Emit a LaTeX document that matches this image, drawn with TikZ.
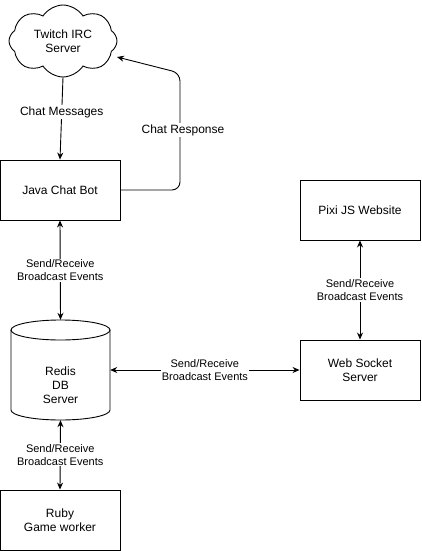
\documentclass[tikz,border=0pt]{standalone}
\usepackage{fontspec}
\setmainfont{Liberation Sans}
\usetikzlibrary{shapes.symbols,arrows.meta}
\begin{document}
\begin{tikzpicture}[x=1pt,y=1pt,
  box/.style={draw,line width=0.9pt,minimum width=120pt,minimum height=60pt,inner sep=0pt,align=center,font=\fontsize{12}{14}\selectfont},
  lbl/.style={fill=white,inner sep=1pt,align=center,font=\fontsize{11}{13}\selectfont},
  clbl/.style={fill=white,inner sep=1pt,align=center,font=\fontsize{12}{14}\selectfont},
  conn/.style={line width=0.9pt,-{Stealth[length=7pt,width=6pt]}},
  bconn/.style={line width=0.9pt,{Stealth[length=7pt,width=6pt]}-{Stealth[length=7pt,width=6pt]}}]
\useasboundingbox (0,0) rectangle (421,-551);
% cloud
\node[cloud,draw,line width=0.9pt,cloud puffs=8,cloud puff arc=115,aspect=1.6,
      minimum width=108pt,minimum height=72pt,inner sep=0pt,align=center,
      font=\fontsize{12}{14}\selectfont] (twitch) at (63,-41) {Twitch IRC\\Server};
% boxes
\node[box] (java) at (60,-190) {Java Chat Bot};
\node[box] (ruby) at (60,-520) {Ruby\\Game worker};
\node[box] (pixi) at (360,-210) {Pixi JS Website};
\node[box] (ws) at (360,-370) {Web Socket\\Server};
% redis cylinder
\node[minimum width=99pt,minimum height=100pt,inner sep=0pt] (redis) at (60.5,-370) {};
\draw[line width=0.9pt] (11,-330) -- (11,-410) arc (180:360:49.5 and 10) -- (110,-330);
\draw[line width=0.9pt] (60.5,-330) ellipse (49.5 and 10);
\node[align=center,font=\fontsize{12}{14}\selectfont] (redistxt) at (60.5,-385) {Redis\\DB\\Server};
% connectors
\draw[conn] (twitch.south) -- (java.north)
  node[pos=0.42,clbl] {Chat Messages};
\coordinate (cr) at (117,-57);
\draw[conn,rounded corners=8pt] (java.east) -- (180,-190) -- (180,-73) -- (cr);
\node[clbl] at (183,-130) {Chat Response};
\draw[bconn] (java.south) -- (redis.north)
  node[midway,lbl] {Send/Receive\\Broadcast Events};
\draw[bconn] (redis.south) -- (ruby.north)
  node[midway,lbl] {Send/Receive\\Broadcast Events};
\draw[bconn] (redis.east |- ws.west) -- (ws.west)
  node[midway,lbl] {Send/Receive\\Broadcast Events};
\draw[bconn] (pixi.south) -- (ws.north)
  node[midway,lbl] {Send/Receive\\Broadcast Events};
\end{tikzpicture}
\end{document}
